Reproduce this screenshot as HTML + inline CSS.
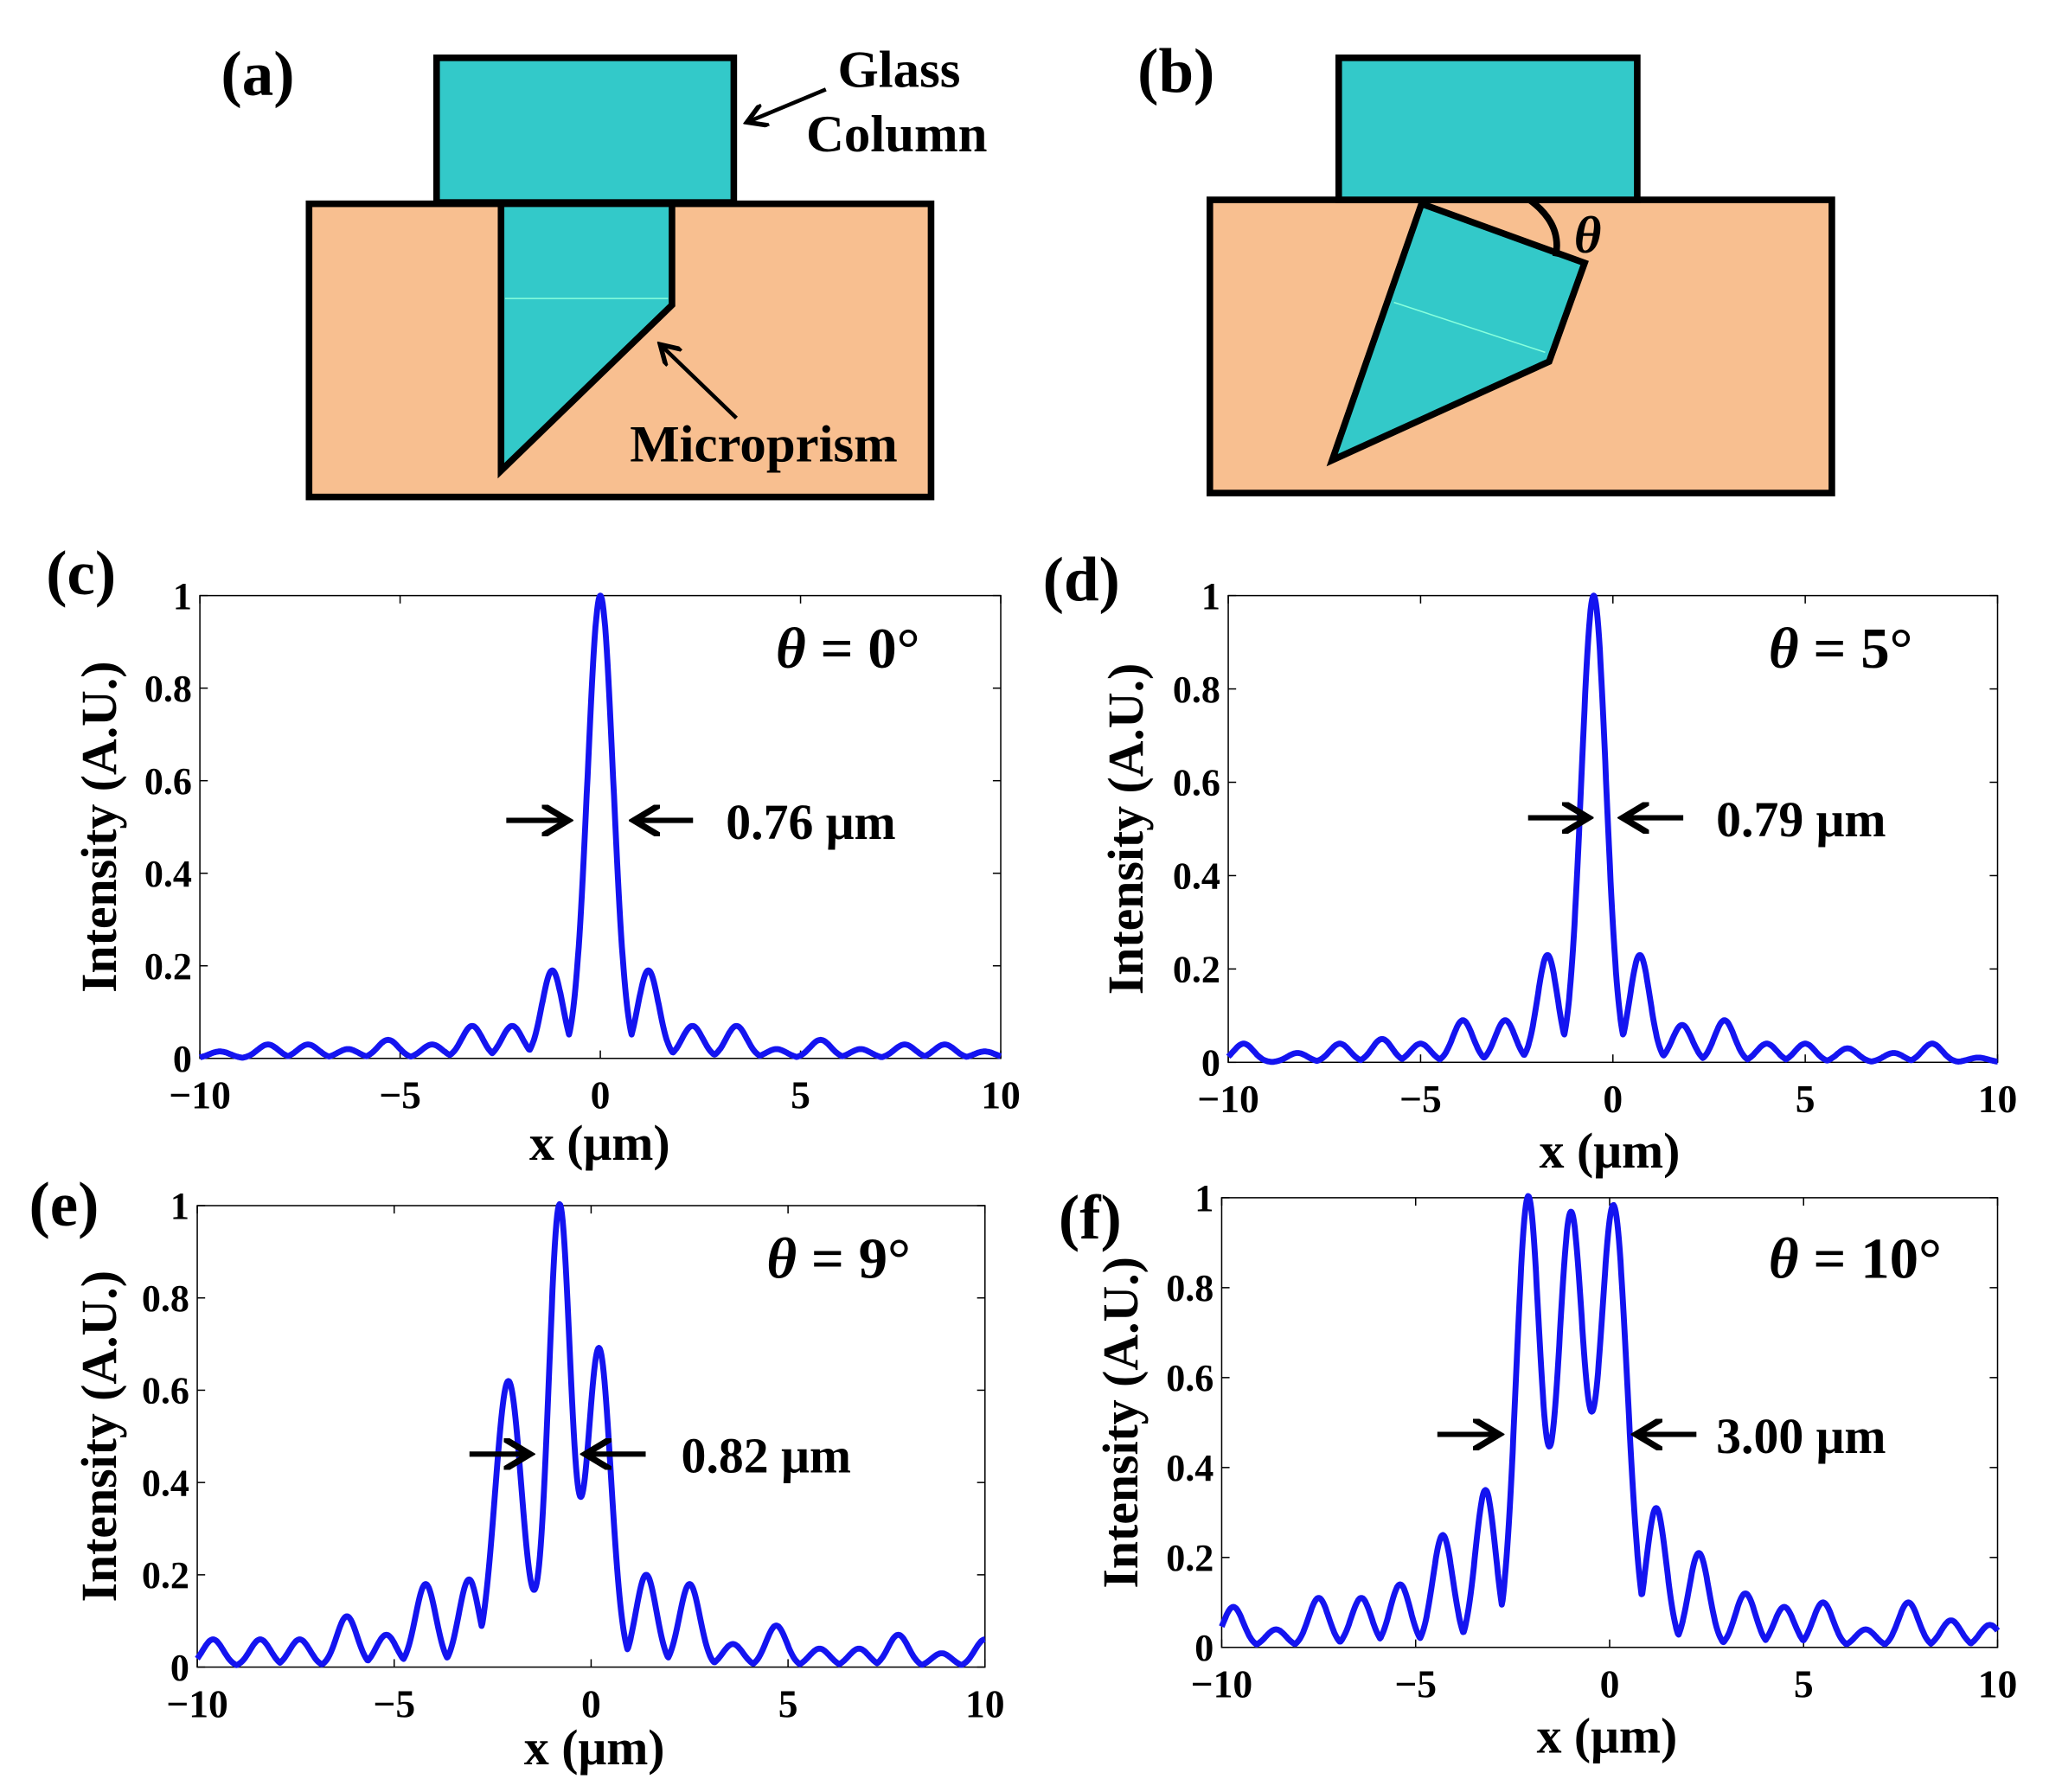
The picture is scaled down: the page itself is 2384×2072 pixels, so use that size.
<!DOCTYPE html>
<html><head><meta charset="utf-8"><style>
html,body{margin:0;padding:0;background:#fff}
svg{display:block}
text{font-family:"Liberation Serif",serif;font-weight:bold;fill:#000}
</style></head><body>
<svg id="s" width="2384" height="2072" viewBox="0 0 1568 1363" preserveAspectRatio="none" xmlns="http://www.w3.org/2000/svg">
<defs><marker id="ah" markerWidth="6" markerHeight="6" refX="5" refY="3" orient="auto" markerUnits="strokeWidth"><path d="M0,0 L5,3 L0,6" fill="none" stroke="#000" stroke-width="1.2"/></marker></defs>
<rect x="235" y="155" width="473" height="223" fill="#f8bf90" stroke="#000" stroke-width="5"/>
<rect x="332" y="44" width="226" height="110" fill="#33c9c9" stroke="#000" stroke-width="5"/>
<polygon points="381,155 511,155 511,232 381,358" fill="#33c9c9" stroke="#000" stroke-width="5"/>
<line x1="384" y1="227" x2="508" y2="227" stroke="#8fd" stroke-width="1"/>
<line x1="628" y1="68" x2="568" y2="93" stroke="#000" stroke-width="3" marker-end="url(#ah)"/>
<line x1="560" y1="318" x2="502" y2="262" stroke="#000" stroke-width="3" marker-end="url(#ah)"/>
<text x="168" y="72" font-size="48">(a)</text>
<text x="637" y="66" font-size="40">Glass</text>
<text x="613" y="115" font-size="40">Column</text>
<text x="479" y="351" font-size="40">Microprism</text>
<rect x="920" y="152" width="473" height="223" fill="#f8bf90" stroke="#000" stroke-width="5"/>
<rect x="1018" y="44" width="227" height="108" fill="#33c9c9" stroke="#000" stroke-width="5"/>
<polygon points="1081,155 1205,200 1178,275 1013,350" fill="#33c9c9" stroke="#000" stroke-width="5"/>
<line x1="1060" y1="230" x2="1175" y2="268" stroke="#8fd" stroke-width="1"/>
<path d="M1163,152 Q1188,170 1183,195" fill="none" stroke="#000" stroke-width="5"/>
<text x="865" y="70" font-size="48">(b)</text>
<text x="1197" y="192" font-size="40" font-style="italic">θ</text>
<g id="plots"></g>
</svg>
<script>
var P=[
 {L:152,R:761,T:453,B:805,lab:"(c)",lx:35,ly:452,th:" = 0°",tx:590,ty:508,ann:{a1:[385,432],a2:[527,482],y:624,t:"0.76 μm",tt:552},yl:88,xl:456,xly:882,
  pk:[[0,1,.32],[-1.2,.19],[1.2,.19],[-2.2,.07],[2.3,.07],[-3.2,.07],[3.4,.07],[-4.2,.03],[4.4,.02],[-5.3,.04],[5.5,.04],[-6.3,.02],[6.5,.02],[-7.3,.03],[7.6,.03],[-8.3,.03],[8.6,.03],[-9.5,.015],[9.6,.015]]},
 {L:934,R:1519,T:453,B:808,lab:"(d)",lx:793,ly:457,th:" = 5°",tx:1345,ty:508,ann:{a1:[1162,1208],a2:[1280,1234],y:622,t:"0.79 μm",tt:1305},yl:869,xl:1224,xly:888,
  pk:[[-.5,1,.32],[-1.7,.23],[.7,.23],[-2.8,.09],[-3.9,.09],[1.8,.08],[2.9,.09],[-5,.04],[-6,.05],[-7.1,.04],[-8.2,.02],[-9.6,.04],[4,.04],[5,.04],[6.1,.03],[7.3,.02],[8.3,.04],[9.5,.01]]},
 {L:150,R:749,T:917,B:1268,lab:"(e)",lx:22,ly:932,th:" = 9°",tx:583,ty:972,ann:{a1:[357,403],a2:[491,445],y:1106,t:"0.82 μm",tt:518},yl:88,xl:452,xly:1342,
  pk:[[-.8,1,.28,1],[-2.1,.62,.34,1],[.2,.69,.3,1],[-3.1,.19],[-4.2,.18],[-5.2,.07],[-6.2,.11],[-7.4,.06],[-8.4,.06],[-9.6,.06],[1.4,.2],[2.5,.18],[3.6,.05],[4.7,.09],[5.8,.04],[6.8,.04],[7.8,.07],[8.9,.03],[10,.06]]},
 {L:929,R:1519,T:911,B:1253,lab:"(f)",lx:805,ly:942,th:" = 10°",tx:1345,ty:972,ann:{a1:[1093,1140],a2:[1290,1244],y:1091,t:"3.00 μm",tt:1305},yl:865,xl:1222,xly:1333,
  pk:[[-2.1,1,.31,1],[-1,.96,.33,1],[.1,.98,.35,1],[-3.2,.35],[-4.3,.25],[-5.4,.14],[-6.4,.11],[-7.5,.11],[-8.6,.04],[-9.7,.09],[1.2,.31],[2.3,.21],[3.5,.12],[4.5,.09],[5.5,.1],[6.6,.04],[7.7,.1],[8.8,.06],[9.8,.05]]}
];
var h="";
P.forEach(function(p){
 var W=p.R-p.L,H=p.B-p.T;
 function X(v){return p.L+(v+10)/20*W;}
 function Y(v){return p.B-v*H;}
 h+='<rect x="'+p.L+'" y="'+p.T+'" width="'+W+'" height="'+H+'" fill="none" stroke="#000" stroke-width="1"/>';
 [-10,-5,0,5,10].forEach(function(v){var x=X(v);
  h+='<line x1="'+x+'" y1="'+p.B+'" x2="'+x+'" y2="'+(p.B-6)+'" stroke="#000"/><line x1="'+x+'" y1="'+p.T+'" x2="'+x+'" y2="'+(p.T+6)+'" stroke="#000"/><text x="'+x+'" y="'+(p.B+38)+'" font-size="30" text-anchor="middle">'+(v<0?'\u2212'+(-v):v)+'</text>';});
 [0,.2,.4,.6,.8,1].forEach(function(v){var y=Y(v);
  h+='<line x1="'+p.L+'" y1="'+y+'" x2="'+(p.L+6)+'" y2="'+y+'" stroke="#000"/><line x1="'+p.R+'" y1="'+y+'" x2="'+(p.R-6)+'" y2="'+y+'" stroke="#000"/><text x="'+(p.L-6)+'" y="'+(y+10)+'" font-size="29" text-anchor="end">'+v+'</text>';});
 var d="";
 for(var i=0;i<=1000;i++){var x=-10+i*.02;var m=0,sm=0;
  for(var j=0;j<p.pk.length;j++){var k=p.pk[j];var s=k[2]||.26;var g=k[1]*Math.exp(-((x-k[0])*(x-k[0]))/(2*s*s));if(k[3])sm+=g;else if(g>m)m=g;}
  if(sm>m)m=sm;
  d+=(i?"L":"M")+X(x).toFixed(1)+","+Y(m).toFixed(1);}
 h+='<path d="'+d+'" fill="none" stroke="#1414f0" stroke-width="4.5" stroke-linejoin="round"/>';
 h+='<text x="'+p.lx+'" y="'+p.ly+'" font-size="48">'+p.lab+'</text>';
 h+='<text x="'+p.tx+'" y="'+p.ty+'" font-size="44"><tspan font-style="italic">\u03b8</tspan>'+p.th+'</text>';
 var a=p.ann;
 h+='<line x1="'+a.a1[0]+'" y1="'+a.y+'" x2="'+a.a1[1]+'" y2="'+a.y+'" stroke="#000" stroke-width="4" marker-end="url(#ah)"/>';
 h+='<line x1="'+a.a2[0]+'" y1="'+a.y+'" x2="'+a.a2[1]+'" y2="'+a.y+'" stroke="#000" stroke-width="4" marker-end="url(#ah)"/>';
 h+='<text x="'+a.tt+'" y="'+(a.y+14)+'" font-size="38">'+a.t+'</text>';
 h+='<text transform="translate('+p.yl+','+((p.T+p.B)/2)+') rotate(-90)" font-size="38" text-anchor="middle">Intensity (A.U.)</text>';
 h+='<text x="'+p.xl+'" y="'+p.xly+'" font-size="38" text-anchor="middle">x (\u03bcm)</text>';
});
document.getElementById("plots").innerHTML=h;
</script>
</body></html>
